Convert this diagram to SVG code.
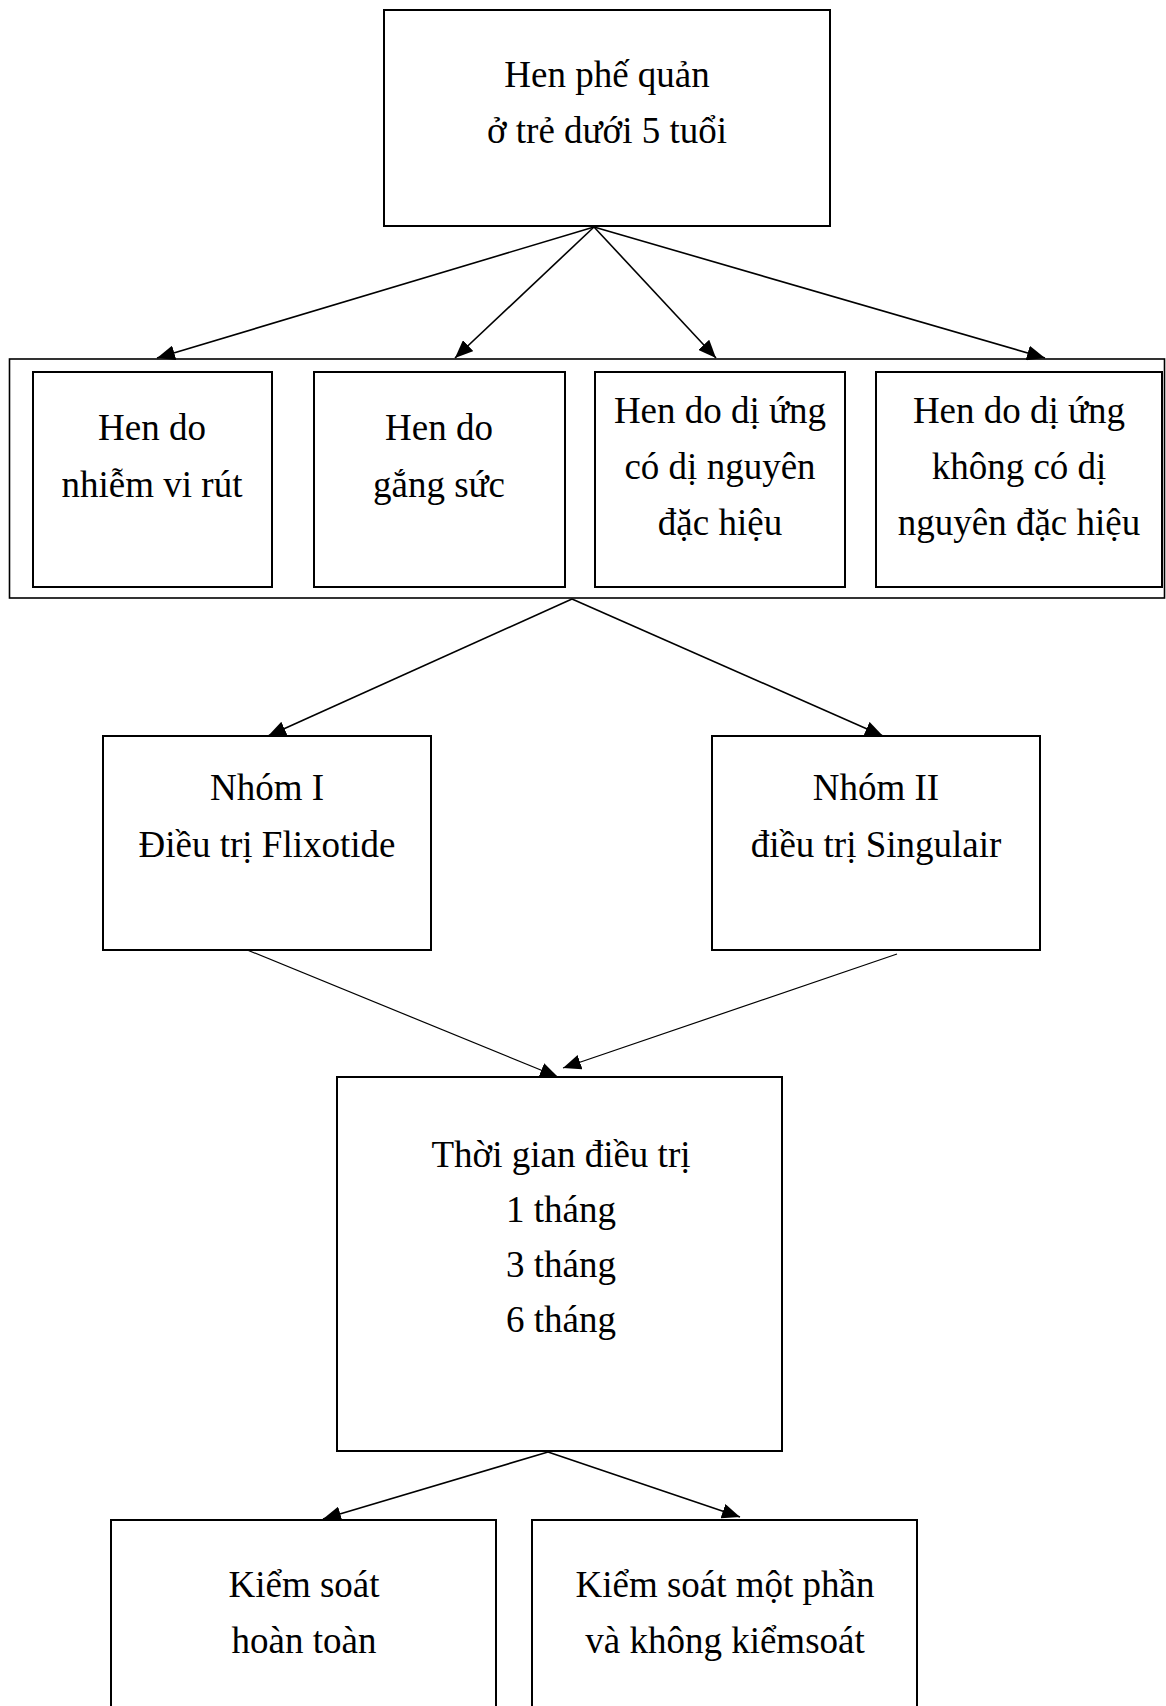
<svg xmlns="http://www.w3.org/2000/svg" width="1166" height="1706" viewBox="0 0 1166 1706">
<style>
.box{fill:#fff;stroke:#000;stroke-width:2}
.cont{fill:none;stroke:#000;stroke-width:1.6}
.t{font-family:"Liberation Serif","Times New Roman",serif;font-size:37px;fill:#000;text-anchor:middle}
.c{stroke:#000;stroke-width:1.6;fill:none;marker-end:url(#ah)}
.c2{stroke:#000;stroke-width:1.2;fill:none;marker-end:url(#ah)}
</style>
<defs>
<marker id="ah" markerUnits="userSpaceOnUse" markerWidth="18" markerHeight="15" viewBox="0 0 18 15" refX="18" refY="7.5" orient="auto">
<path d="M0,0 L18,7.5 L0,15 z" fill="#000"/>
</marker>
</defs>
<rect width="1166" height="1706" fill="#fff"/>
<g id="connectors">
<line class="c" x1="594" y1="227" x2="157" y2="358"/>
<line class="c" x1="594" y1="227" x2="455" y2="358"/>
<line class="c" x1="594" y1="227" x2="716" y2="358"/>
<line class="c" x1="594" y1="227" x2="1045" y2="358"/>
<line class="c" x1="572" y1="599" x2="268" y2="736"/>
<line class="c" x1="572" y1="599" x2="883" y2="736"/>
<line class="c2" x1="240" y1="947" x2="558" y2="1077"/>
<line class="c2" x1="897" y1="954" x2="563" y2="1068"/>
<line class="c" x1="548" y1="1452" x2="323" y2="1519"/>
<line class="c" x1="548" y1="1452" x2="740" y2="1517"/>
</g>
<g id="top">
<rect class="box" x="384" y="10" width="446" height="216"/>
<text class="t" x="607" y="87">Hen phế quản</text><text class="t" x="607" y="143">ở trẻ dưới 5 tuổi</text>
</g>
<g id="container">
<rect class="cont" x="9.5" y="359" width="1155" height="239"/>
</g>
<g id="virus">
<rect class="box" x="33" y="372" width="239" height="215"/>
<text class="t" x="152" y="440">Hen do</text><text class="t" x="152" y="497">nhiễm vi rút</text>
</g>
<g id="exercise">
<rect class="box" x="314" y="372" width="251" height="215"/>
<text class="t" x="439" y="440">Hen do</text><text class="t" x="439" y="497">gắng sức</text>
</g>
<g id="allergy-specific">
<rect class="box" x="595" y="372" width="250" height="215"/>
<text class="t" x="720" y="423">Hen do dị ứng</text><text class="t" x="720" y="479">có dị nguyên</text><text class="t" x="720" y="535">đặc hiệu</text>
</g>
<g id="allergy-nonspecific">
<rect class="box" x="876" y="372" width="286" height="215"/>
<text class="t" x="1019" y="423">Hen do dị ứng</text><text class="t" x="1019" y="479">không có dị</text><text class="t" x="1019" y="535">nguyên đặc hiệu</text>
</g>
<g id="group1">
<rect class="box" x="103" y="736" width="328" height="214"/>
<text class="t" x="267" y="800">Nhóm I</text><text class="t" x="267" y="857">Điều trị Flixotide</text>
</g>
<g id="group2">
<rect class="box" x="712" y="736" width="328" height="214"/>
<text class="t" x="876" y="800">Nhóm II</text><text class="t" x="876" y="857">điều trị Singulair</text>
</g>
<g id="duration">
<rect class="box" x="337" y="1077" width="445" height="374"/>
<text class="t" x="561" y="1167">Thời gian điều trị</text><text class="t" x="561" y="1222">1 tháng</text><text class="t" x="561" y="1277">3 tháng</text><text class="t" x="561" y="1332">6 tháng</text>
</g>
<g id="full-control">
<rect class="box" x="111" y="1520" width="385" height="200"/>
<text class="t" x="304" y="1597">Kiểm soát</text><text class="t" x="304" y="1653">hoàn toàn</text>
</g>
<g id="partial-control">
<rect class="box" x="532" y="1520" width="385" height="200"/>
<text class="t" x="725" y="1597">Kiểm soát một phần</text><text class="t" x="725" y="1653">và không kiểmsoát</text>
</g>
</svg>
